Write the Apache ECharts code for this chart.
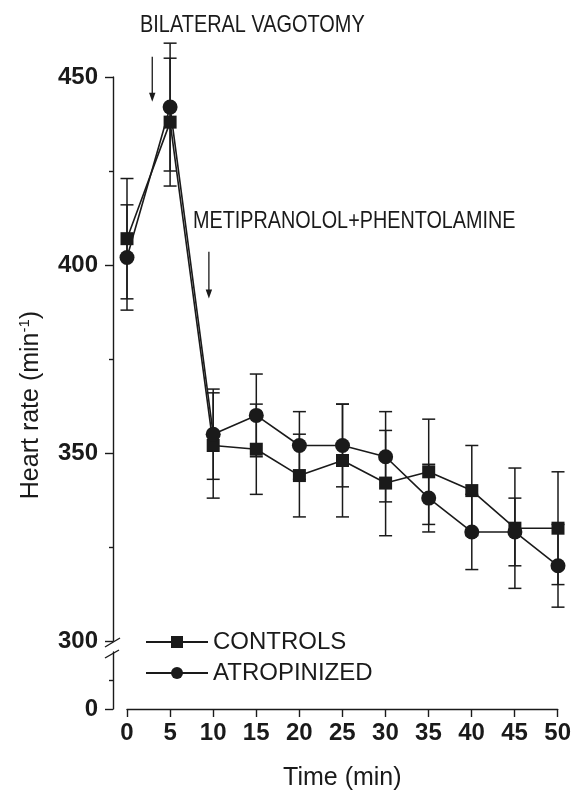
<!DOCTYPE html>
<html>
<head>
<meta charset="utf-8">
<script src="https://cdn.jsdelivr.net/npm/echarts@6/dist/echarts.min.js"></script>
<style>
html,body{margin:0;padding:0;background:#fff;}
#chart{width:574px;height:792px;}
</style>
</head>
<body>
<div id="chart"></div>
<script>
// ---- data ----
const times = [0, 5, 10, 15, 20, 25, 30, 35, 40, 45, 50];
const controlsMean = [407, 438, 352, 351, 344, 348, 342, 345, 340, 330, 330];
const controlsErr  = [16, 17, 14, 12, 11, 15, 14, 14, 12, 16, 15];
const atropMean    = [402, 442, 355, 360, 352, 352, 349, 338, 329, 329, 320];
const atropErr     = [14, 17, 12, 11, 9, 11, 12, 9, 10, 9, 11];
const xTicks = [0, 5, 10, 15, 20, 25, 30, 35, 40, 45, 50];
const yTicksUpper = [300, 350, 400, 450];
const seriesNames = ['CONTROLS', 'ATROPINIZED'];
// arrows: time position, from value, to value
const arrowT    = [2.93, 9.5];
const arrowFrom = [455.4, 403.5];
const arrowTo   = [443.4, 391.1];
const annotations = ['BILATERAL VAGOTOMY', 'METIPRANOLOL+PHENTOLAMINE'];

const INK = '#1a1a1a';
const FONT = '"Liberation Sans", Arial, Helvetica, sans-serif';

function pairs(m) { return times.map((t, i) => [t, m[i]]); }
function bars(m, e) { return times.map((t, i) => [t, m[i] - e[i], m[i] + e[i]]); }

function errRender(params, api) {
  const x = api.value(0), lo = api.value(1), hi = api.value(2);
  const pHi = api.coord([x, hi]);
  const pLo = api.coord([x, lo]);
  const w = 6.5;
  const style = { stroke: INK, lineWidth: 1.5, fill: null };
  return {
    type: 'group',
    children: [
      { type: 'line', shape: { x1: pHi[0], y1: pHi[1], x2: pLo[0], y2: pLo[1] }, style: style },
      { type: 'line', shape: { x1: pHi[0] - w, y1: pHi[1], x2: pHi[0] + w, y2: pHi[1] }, style: style },
      { type: 'line', shape: { x1: pLo[0] - w, y1: pLo[1], x2: pLo[0] + w, y2: pLo[1] }, style: style }
    ]
  };
}

function arrowRender(params, api) {
  const t = api.value(0), from = api.value(1), to = api.value(2);
  const p1 = api.coord([t, from]);
  const p2 = api.coord([t, to]);
  const hl = 9, hw = 3.2;
  return {
    type: 'group',
    children: [
      { type: 'line', shape: { x1: p1[0], y1: p1[1], x2: p2[0], y2: p2[1] - hl + 1 },
        style: { stroke: INK, lineWidth: 1.3, fill: null } },
      { type: 'polygon', shape: { points: [[p2[0] - hw, p2[1] - hl], [p2[0] + hw, p2[1] - hl], [p2[0], p2[1]]] },
        style: { fill: INK, stroke: null } }
    ]
  };
}

const chart = echarts.init(document.getElementById('chart'), null, { renderer: 'canvas' });

const option = {
  animation: false,
  backgroundColor: '#fff',
  textStyle: { fontFamily: FONT },
  grid: [
    { left: 127, right: 16, top: 77, height: 564 },
    { left: 127, right: 16, top: 652, height: 58 }
  ],
  xAxis: [
    { gridIndex: 0, type: 'value', min: 0, max: 50, interval: 5, show: false },
    {
      gridIndex: 1, type: 'value', min: 0, max: 50, interval: 5,
      axisLine: { show: true, onZero: false, lineStyle: { color: INK, width: 1.4 } },
      axisTick: { show: true, length: 8, lineStyle: { color: INK, width: 1.4 }, customValues: xTicks },
      axisLabel: { margin: 12, color: INK, fontSize: 24, fontWeight: 'bold', fontFamily: FONT, customValues: xTicks },
      splitLine: { show: false },
      name: 'Time (min)', nameLocation: 'middle', nameGap: 57,
      nameTextStyle: { fontSize: 25, color: INK, fontFamily: FONT }
    }
  ],
  yAxis: [
    {
      gridIndex: 0, type: 'value', min: 300, max: 450, interval: 50, offset: 14,
      axisLine: { show: true, onZero: false, lineStyle: { color: INK, width: 1.4 } },
      axisTick: { show: true, length: 8, lineStyle: { color: INK, width: 1.4 }, customValues: yTicksUpper },
      minorTick: { show: true, splitNumber: 2, length: 4, lineStyle: { color: INK, width: 1.4 } },
      axisLabel: { margin: 15, color: INK, fontSize: 24, fontWeight: 'bold', fontFamily: FONT, customValues: yTicksUpper },
      splitLine: { show: false }, minorSplitLine: { show: false }
    },
    {
      gridIndex: 1, type: 'value', min: 0, max: 2, interval: 2, offset: 14,
      axisLine: { show: true, onZero: false, lineStyle: { color: INK, width: 1.4 } },
      axisTick: { show: true, length: 8, lineStyle: { color: INK, width: 1.4 }, customValues: [0] },
      minorTick: { show: true, splitNumber: 2, length: 4, lineStyle: { color: INK, width: 1.4 } },
      axisLabel: { margin: 15, color: INK, fontSize: 24, fontWeight: 'bold', fontFamily: FONT, customValues: [0] },
      splitLine: { show: false }, minorSplitLine: { show: false }
    }
  ],
  legend: {
    data: seriesNames,
    orient: 'vertical', left: 145, top: 630, padding: 0,
    itemWidth: 62, itemHeight: 15, itemGap: 7,
    textStyle: { fontSize: 24, color: INK, fontFamily: FONT },
    inactiveColor: INK
  },
  series: [
    {
      type: 'custom', name: 'controls-err', xAxisIndex: 0, yAxisIndex: 0,
      renderItem: errRender, data: bars(controlsMean, controlsErr),
      encode: { x: 0, y: [1, 2] }, clip: false, z: 1, silent: true
    },
    {
      type: 'custom', name: 'atrop-err', xAxisIndex: 0, yAxisIndex: 0,
      renderItem: errRender, data: bars(atropMean, atropErr),
      encode: { x: 0, y: [1, 2] }, clip: false, z: 1, silent: true
    },
    {
      type: 'custom', name: 'arrows', xAxisIndex: 0, yAxisIndex: 0,
      renderItem: arrowRender, data: arrowT.map((t, i) => [t, arrowFrom[i], arrowTo[i]]),
      encode: { x: 0, y: [1, 2] }, clip: false, z: 1, silent: true
    },
    {
      type: 'line', name: seriesNames[0], xAxisIndex: 0, yAxisIndex: 0,
      data: pairs(controlsMean), symbol: 'rect', symbolSize: 13, clip: false,
      itemStyle: { color: INK }, lineStyle: { color: INK, width: 1.6 }, z: 3
    },
    {
      type: 'line', name: seriesNames[1], xAxisIndex: 0, yAxisIndex: 0,
      data: pairs(atropMean), symbol: 'circle', symbolSize: 15, clip: false,
      itemStyle: { color: INK }, lineStyle: { color: INK, width: 1.6 }, z: 3
    }
  ],
  graphic: [
    { type: 'text', x: 140, y: 25, scaleX: 0.83,
      style: { text: annotations[0], fontSize: 24, fontFamily: FONT, fill: INK, textVerticalAlign: 'middle' } },
    { type: 'text', x: 193, y: 221, scaleX: 0.825,
      style: { text: annotations[1], fontSize: 24, fontFamily: FONT, fill: INK, textVerticalAlign: 'middle' } },
    { type: 'text', x: 31, y: 405, rotation: Math.PI / 2,
      style: {
        text: 'Heart rate (min{sup|-1})', fontSize: 25, fontFamily: FONT, fill: INK,
        textAlign: 'center', textVerticalAlign: 'middle',
        rich: { sup: { fontSize: 15, fontFamily: FONT, fill: INK, verticalAlign: 'top', lineHeight: 28 } }
      } },
    { type: 'line', shape: { x1: 105, y1: 647, x2: 120, y2: 638 }, style: { stroke: INK, lineWidth: 1.4 } },
    { type: 'line', shape: { x1: 105, y1: 658, x2: 119, y2: 650 }, style: { stroke: INK, lineWidth: 1.4 } }
  ]
};
chart.setOption(option);
</script>
</body>
</html>
